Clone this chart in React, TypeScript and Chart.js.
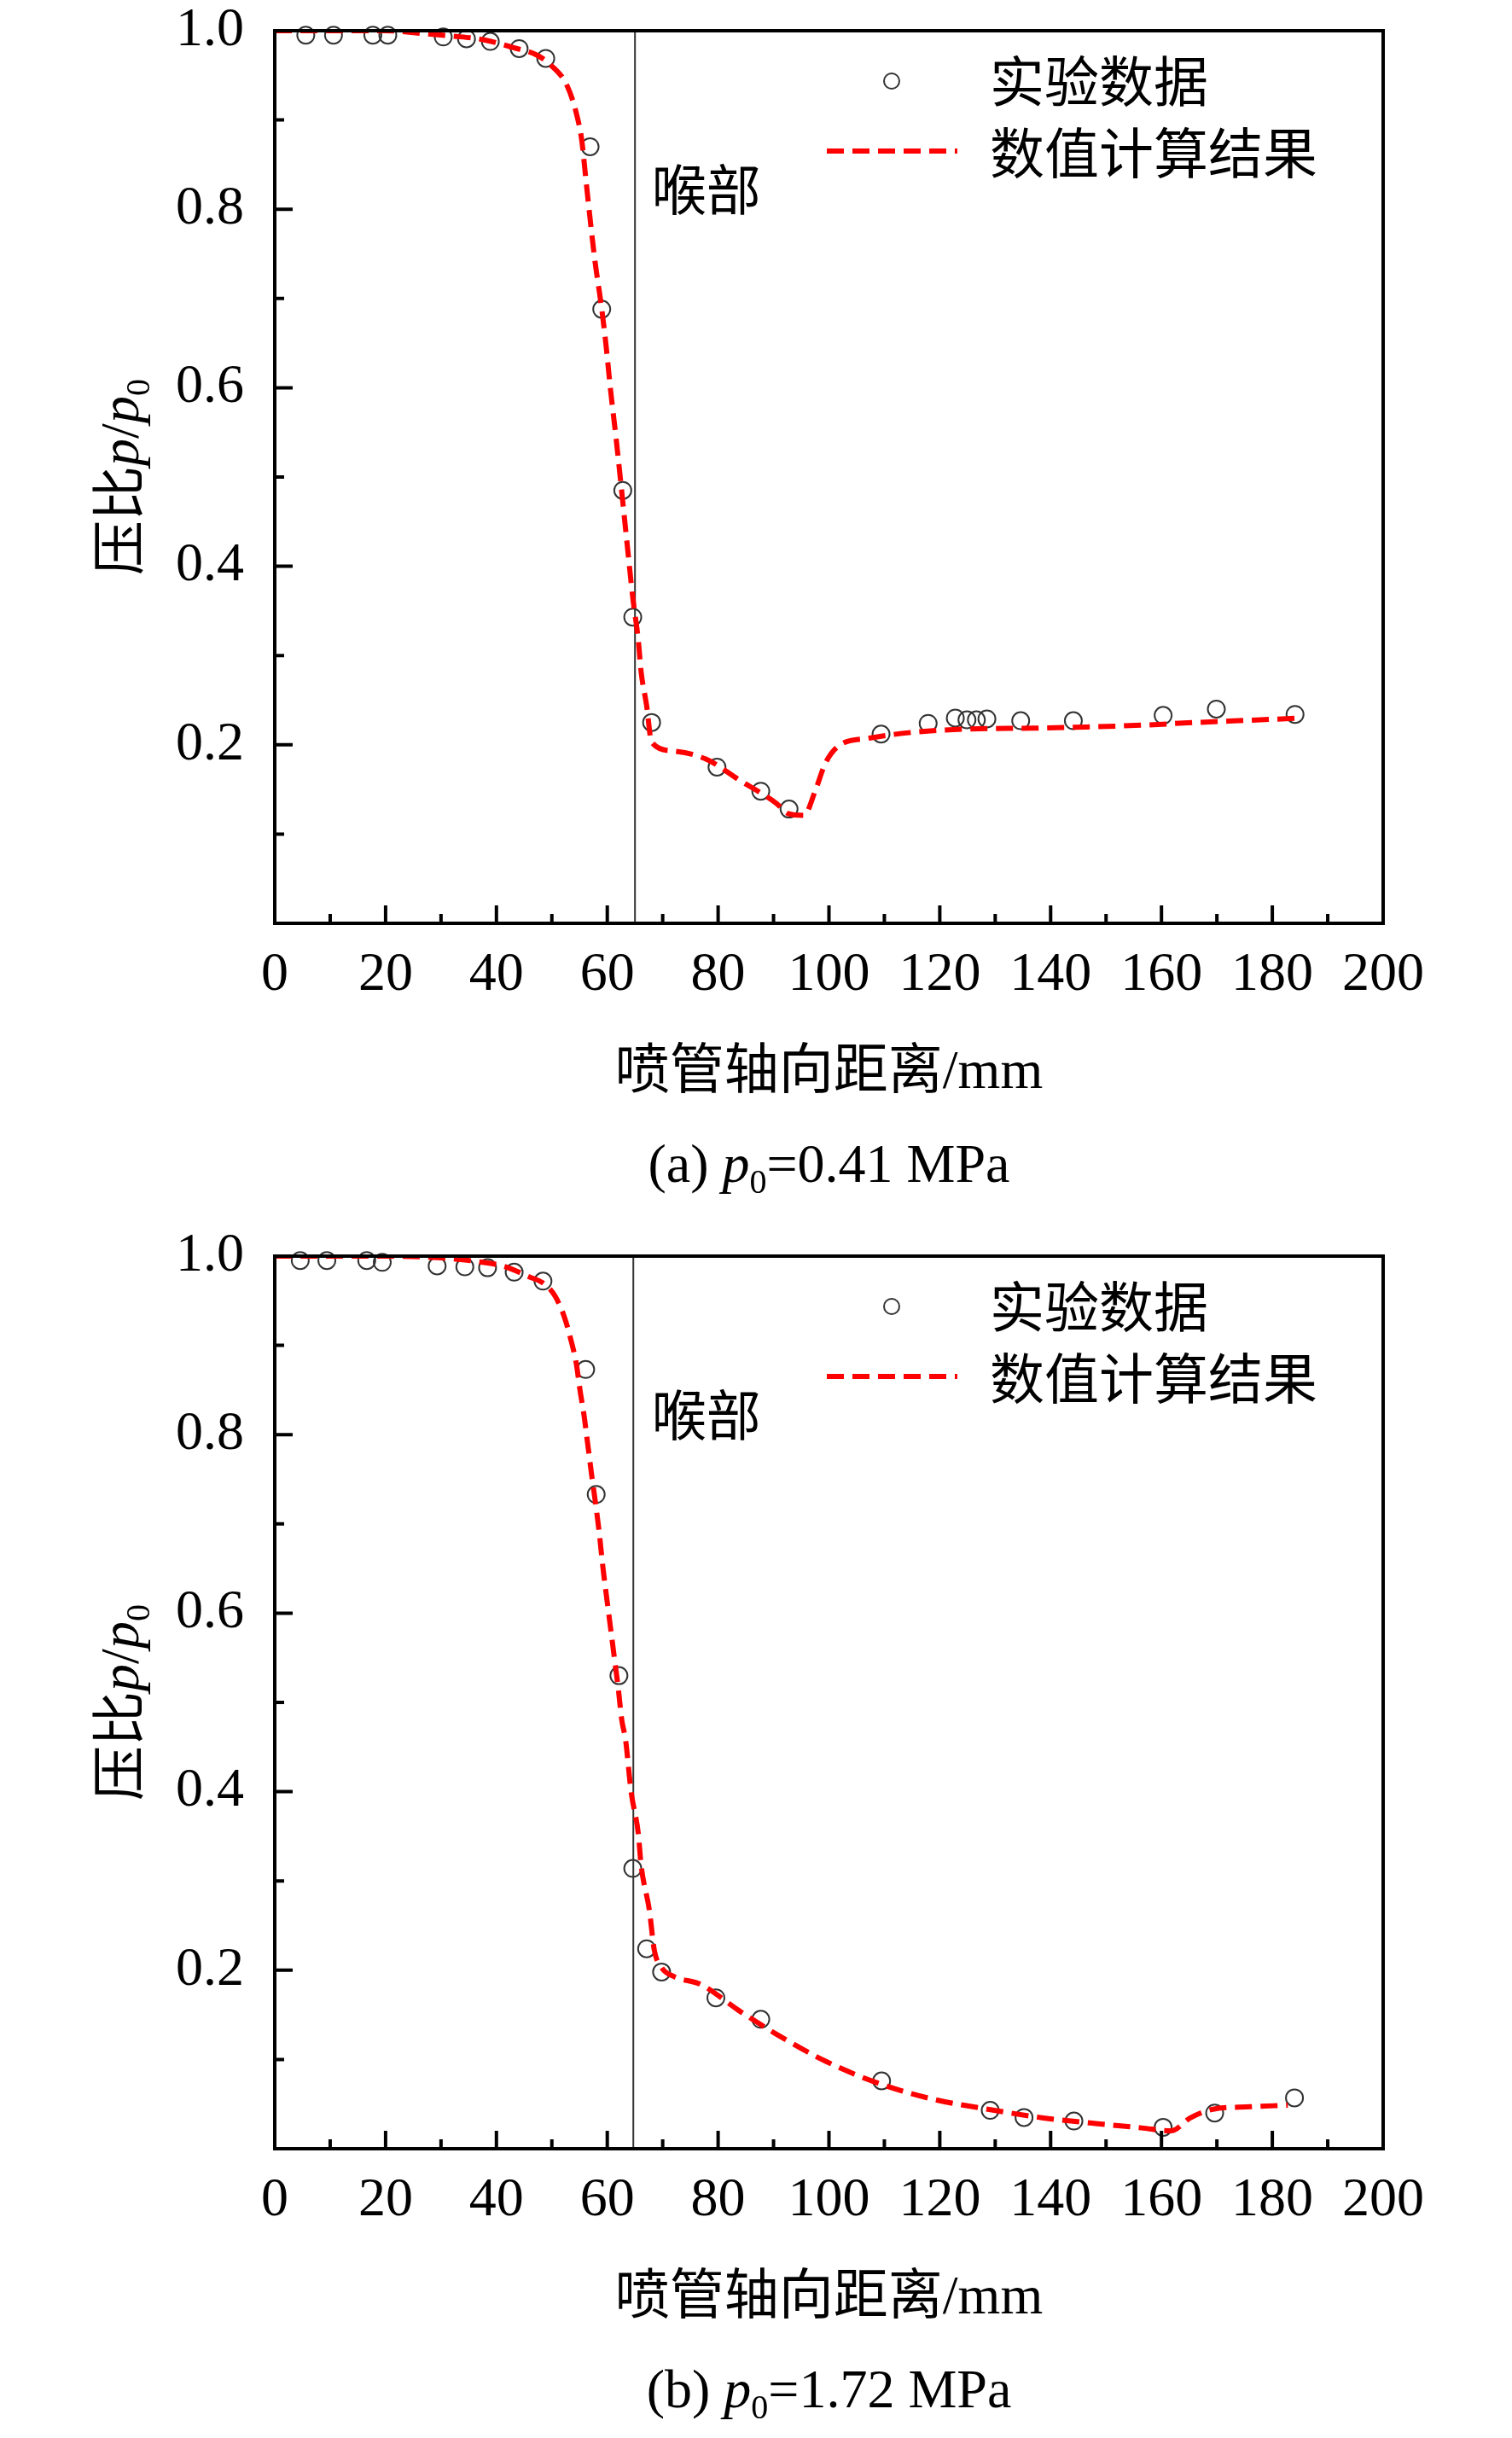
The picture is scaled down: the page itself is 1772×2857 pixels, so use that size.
import React, { useEffect, useRef } from 'react';
import { Chart, registerables } from 'chart.js';

Chart.register(...registerables);

const W = 1772;
const PLOT_LEFT = 322;
const PLOT_RIGHT = 1621;
const PLOT_TOP = 36;
const PLOT_BOTTOM = 1082;
const SERIF = '"Liberation Serif", "Times New Roman", "Noto Sans CJK SC", serif';

// axis ticks
const X_TICKS = [0, 20, 40, 60, 80, 100, 120, 140, 160, 180, 200];
const X_MINOR = [10, 30, 50, 70, 90, 110, 130, 150, 170, 190];
const Y_TICKS = [0.2, 0.4, 0.6, 0.8, 1.0];
const Y_MINOR = [0.1, 0.3, 0.5, 0.7, 0.9];

// (a) p0 = 0.41 MPa, experiment
const expXA = [5.6, 10.6, 17.7, 20.4, 30.4, 34.6, 38.9, 44.1, 48.9, 56.9, 59.0, 62.8, 64.6, 68.0, 79.8, 87.7, 92.8, 109.4, 117.9, 122.8, 124.9, 126.6, 128.5, 134.6, 144.1, 160.3, 169.9, 184.1];
const expYA = [0.995, 0.995, 0.995, 0.995, 0.993, 0.991, 0.988, 0.98, 0.969, 0.87, 0.688, 0.485, 0.343, 0.225, 0.175, 0.148, 0.128, 0.212, 0.224, 0.23, 0.228, 0.228, 0.229, 0.227, 0.227, 0.233, 0.24, 0.234];
// (a) numerical result
const simXA = [0, 20, 26.6, 32.1, 37.6, 43.1, 47.2, 49.9, 52.7, 54.4, 55.4, 56.1, 56.8, 57.8, 58.9, 59.7, 60.6, 61.6, 62.3, 63.5, 64.6, 65.6, 66.1, 67.1, 68.0, 71.9, 77.8, 83.7, 90.6, 92.6, 95.5, 97.5, 99.4, 101.9, 107.3, 115.1, 124.9, 136.7, 146.5, 156.4, 166.2, 176.0, 184.3];
const simYA = [1.0, 1.0, 0.997, 0.994, 0.99, 0.981, 0.973, 0.961, 0.939, 0.908, 0.877, 0.836, 0.795, 0.741, 0.693, 0.652, 0.597, 0.543, 0.502, 0.43, 0.365, 0.317, 0.282, 0.244, 0.203, 0.193, 0.184, 0.161, 0.134, 0.123, 0.121, 0.148, 0.18, 0.1995, 0.2075, 0.214, 0.2177, 0.2186, 0.22, 0.222, 0.225, 0.2275, 0.2297];

// (b) p0 = 1.72 MPa, experiment
const expXB = [4.6, 9.4, 16.6, 19.4, 29.3, 34.3, 38.4, 43.2, 48.4, 56.1, 58.0, 62.1, 64.6, 67.1, 69.8, 79.6, 87.7, 109.5, 129.1, 135.2, 144.2, 160.3, 169.6, 184.0];
const expYB = [0.995, 0.995, 0.995, 0.993, 0.989, 0.988, 0.987, 0.982, 0.972, 0.873, 0.733, 0.53, 0.314, 0.224, 0.198, 0.169, 0.145, 0.076, 0.043, 0.035, 0.031, 0.024, 0.04, 0.057];
// (b) numerical result
const simXB = [0, 20, 30, 37.6, 41.7, 45.8, 48.6, 50.6, 52.3, 53.4, 54.4, 55.1, 55.8, 56.5, 57.2, 57.8, 58.5, 59.2, 59.9, 60.6, 61.3, 62.0, 62.6, 63.3, 64.3, 65.6, 66.1, 67.6, 68.5, 69.8, 72.0, 76.9, 83.7, 90.6, 99.4, 109.2, 119.1, 128.9, 138.7, 148.5, 156.4, 161.7, 165.2, 169.1, 176.0, 182.8];
const simYB = [1.0, 1.0, 0.998, 0.993, 0.988, 0.977, 0.969, 0.955, 0.931, 0.907, 0.88, 0.849, 0.822, 0.788, 0.754, 0.727, 0.693, 0.652, 0.617, 0.583, 0.549, 0.515, 0.481, 0.458, 0.4, 0.353, 0.318, 0.267, 0.222, 0.203, 0.193, 0.184, 0.155, 0.128, 0.098, 0.0727, 0.055, 0.044, 0.0345, 0.028, 0.0233, 0.02, 0.0345, 0.044, 0.047, 0.0488];

const throatA = 65;
const throatB = 64.7;

type Seg = { t: string; it?: boolean; sub?: boolean };

function drawRich(ctx: CanvasRenderingContext2D, segs: Seg[], cx: number, cy: number, size: number, rotate = false) {
  const fontOf = (s: Seg) => `${s.it ? 'italic ' : ''}${s.sub ? Math.round(size * 0.62) : size}px ${SERIF}`;
  let total = 0;
  for (const s of segs) {
    ctx.font = fontOf(s);
    total += ctx.measureText(s.t).width;
  }
  ctx.save();
  ctx.translate(cx, cy);
  if (rotate) ctx.rotate(-Math.PI / 2);
  ctx.textAlign = 'left';
  ctx.textBaseline = 'alphabetic';
  ctx.fillStyle = '#000';
  let x = -total / 2;
  const base = size * 0.34;
  for (const s of segs) {
    ctx.font = fontOf(s);
    ctx.fillText(s.t, x, base + (s.sub ? size * 0.2 : 0));
    x += ctx.measureText(s.t).width;
  }
  ctx.restore();
}

function makeDecor(caption: Seg[]) {
  return {
    id: 'decor',
    afterDraw(chart: any) {
      const { ctx, chartArea: a, scales } = chart;
      const x = scales.x;
      const y = scales.y;
      ctx.save();
      // frame
      ctx.strokeStyle = '#000';
      ctx.lineWidth = 4;
      ctx.setLineDash([]);
      ctx.strokeRect(a.left, a.top, a.right - a.left, a.bottom - a.top);
      // inward ticks
      ctx.beginPath();
      for (const v of X_TICKS) {
        const p = x.getPixelForValue(v);
        ctx.moveTo(p, a.bottom);
        ctx.lineTo(p, a.bottom - 21);
      }
      for (const v of X_MINOR) {
        const p = x.getPixelForValue(v);
        ctx.moveTo(p, a.bottom);
        ctx.lineTo(p, a.bottom - 11);
      }
      for (const v of Y_TICKS) {
        const p = y.getPixelForValue(v);
        ctx.moveTo(a.left, p);
        ctx.lineTo(a.left + 21, p);
      }
      for (const v of Y_MINOR) {
        const p = y.getPixelForValue(v);
        ctx.moveTo(a.left, p);
        ctx.lineTo(a.left + 11, p);
      }
      ctx.stroke();

      // throat label
      ctx.fillStyle = '#000';
      ctx.font = `64px ${SERIF}`;
      ctx.textAlign = 'left';
      ctx.textBaseline = 'middle';
      ctx.fillText('喉部', x.getPixelForValue(68), y.getPixelForValue(0.815));

      // legend
      ctx.strokeStyle = '#333';
      ctx.lineWidth = 2;
      ctx.beginPath();
      ctx.arc(a.left + 723, a.top + 59, 9, 0, Math.PI * 2);
      ctx.stroke();
      ctx.strokeStyle = '#ff0000';
      ctx.lineWidth = 6;
      ctx.setLineDash([20, 10]);
      ctx.beginPath();
      ctx.moveTo(a.left + 647, a.top + 141);
      ctx.lineTo(a.left + 800, a.top + 141);
      ctx.stroke();
      ctx.setLineDash([]);
      ctx.fillText('实验数据', a.left + 838, a.top + 66);
      ctx.fillText('数值计算结果', a.left + 838, a.top + 150);

      // axis titles and caption
      const cx = (a.left + a.right) / 2;
      ctx.textAlign = 'center';
      ctx.fillText('喷管轴向距离/mm', cx, a.bottom + 176);
      drawRich(ctx, [{ t: '压比' }, { t: 'p', it: true }, { t: '/' }, { t: 'p', it: true }, { t: '0', sub: true }], 140, (a.top + a.bottom) / 2, 64, true);
      drawRich(ctx, caption, cx, a.bottom + 281, 64);
      ctx.restore();
    },
  };
}

interface PanelProps {
  height: number;
  expX: number[];
  expY: number[];
  simX: number[];
  simY: number[];
  throat: number;
  caption: Seg[];
}

const Panel = ({ height, expX, expY, simX, simY, throat, caption }: PanelProps) => {
  const canvasRef = useRef<HTMLCanvasElement | null>(null);

  useEffect(() => {
    if (!canvasRef.current) return;
    const tickFont = { family: SERIF, size: 64 };
    const chart = new Chart(canvasRef.current, {
      type: 'scatter',
      data: {
        datasets: [
          {
            type: 'line',
            label: '数值计算结果',
            data: simX.map((v, i) => ({ x: v, y: simY[i] })),
            borderColor: '#ff0000',
            borderWidth: 6,
            borderDash: [20, 10],
            pointRadius: 0,
            cubicInterpolationMode: 'monotone',
            fill: false,
          },
          {
            label: '实验数据',
            data: expX.map((v, i) => ({ x: v, y: expY[i] })),
            pointRadius: 10,
            pointBorderWidth: 2,
            pointBorderColor: '#333',
            pointBackgroundColor: 'rgba(0,0,0,0)',
            showLine: false,
            clip: false,
          },
          {
            type: 'line',
            label: '喉部',
            data: [{ x: throat, y: 0 }, { x: throat, y: 1 }],
            borderColor: '#333',
            borderWidth: 2,
            pointRadius: 0,
          },
        ],
      } as any,
      options: {
        responsive: false,
        devicePixelRatio: 1,
        animation: false,
        layout: { padding: { top: PLOT_TOP, right: W - PLOT_RIGHT, left: 0, bottom: 0 } },
        plugins: { legend: { display: false }, tooltip: { enabled: false } },
        scales: {
          x: {
            type: 'linear',
            min: 0,
            max: 200,
            grid: { display: false, drawTicks: false },
            border: { display: false },
            ticks: { font: tickFont, color: '#000', padding: 23, maxRotation: 0, autoSkip: false },
            afterBuildTicks: (s: any) => {
              s.ticks = X_TICKS.map((value) => ({ value }));
            },
            afterFit: (s: any) => {
              s.height = height - PLOT_BOTTOM;
              s.paddingLeft = 0;
              s.paddingRight = 0;
              s.paddingTop = 0;
              s.paddingBottom = 0;
            },
          },
          y: {
            type: 'linear',
            min: 0,
            max: 1,
            grid: { display: false, drawTicks: false },
            border: { display: false },
            ticks: {
              font: tickFont,
              color: '#000',
              padding: 36,
              callback: (v: any) => Number(v).toFixed(1),
            },
            afterBuildTicks: (s: any) => {
              s.ticks = Y_TICKS.map((value) => ({ value }));
            },
            afterFit: (s: any) => {
              s.width = PLOT_LEFT;
              s.paddingLeft = 0;
              s.paddingRight = 0;
              s.paddingTop = 0;
              s.paddingBottom = 0;
            },
          },
        },
      } as any,
      plugins: [makeDecor(caption)],
    });
    return () => {
      chart.destroy();
    };
  }, [height, expX, expY, simX, simY, throat, caption]);

  return <canvas ref={canvasRef} width={W} height={height} style={{ display: 'block' }} />;
};

const captionA: Seg[] = [{ t: '(a) ' }, { t: 'p', it: true }, { t: '0', sub: true }, { t: '=0.41 MPa' }];
const captionB: Seg[] = [{ t: '(b) ' }, { t: 'p', it: true }, { t: '0', sub: true }, { t: '=1.72 MPa' }];

export default function App() {
  return (
    <div style={{ position: 'absolute', left: 0, top: 0, width: W, height: 2857, background: '#fff' }}>
      <Panel height={1436} expX={expXA} expY={expYA} simX={simXA} simY={simYA} throat={throatA} caption={captionA} />
      <Panel height={1421} expX={expXB} expY={expYB} simX={simXB} simY={simYB} throat={throatB} caption={captionB} />
    </div>
  );
}
